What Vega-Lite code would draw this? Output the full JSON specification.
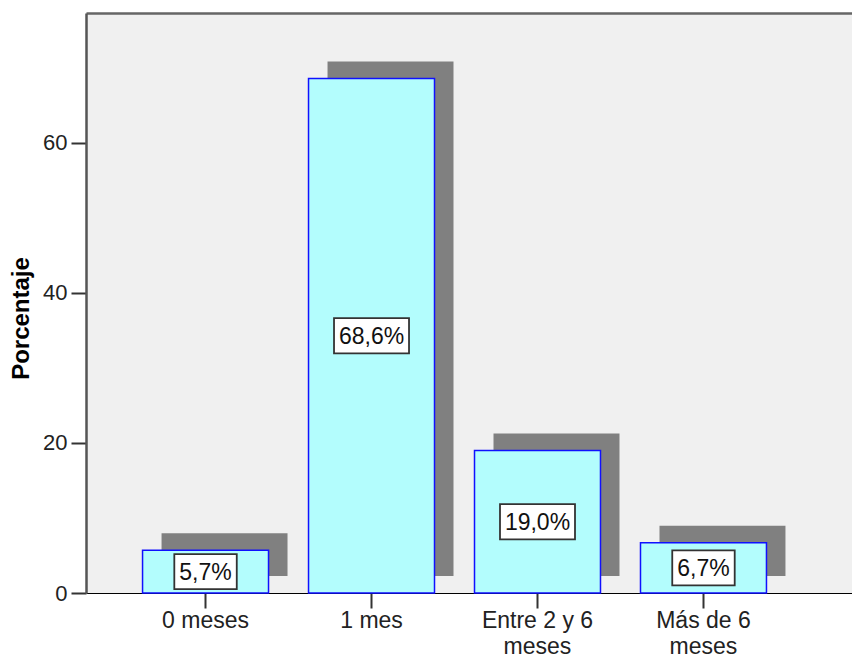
{
  "$schema": "https://vega.github.io/schema/vega-lite/v6.json",
  "width": 766,
  "height": 580,
  "autosize": {"type": "none"},
  "padding": {"left": 86, "top": 13, "right": 0, "bottom": 66},
  "background": "white",
  "config": {
    "view": {"stroke": null, "fill": "#f0f0f0"},
    "font": "Liberation Sans",
    "axis": {"labelFont": "Liberation Sans", "labelFontSize": 22, "labelColor": "#222222", "titleFont": "Liberation Sans", "grid": false}
  },
  "data": {
    "values": [
      {"Periodo": "0 meses", "Porcentaje": 5.7, "Etiqueta": "5,7%"},
      {"Periodo": "1 mes", "Porcentaje": 68.6, "Etiqueta": "68,6%"},
      {"Periodo": "Entre 2 y 6 meses", "Porcentaje": 19.0, "Etiqueta": "19,0%"},
      {"Periodo": "Más de 6 meses", "Porcentaje": 6.7, "Etiqueta": "6,7%"}
    ]
  },
  "resolve": {"scale": {"y": "independent"}},
  "layer": [
    {
      "mark": {"type": "bar", "color": "#808080", "xOffset": 19, "yOffset": -17},
      "encoding": {
        "x": {"field": "Periodo", "type": "nominal", "sort": null,
              "scale": {"paddingInner": 0.241, "paddingOuter": 0.428, "align": 0.398},
              "axis": {"orient": "top", "labels": false, "ticks": false, "title": null, "domainColor": "#666666", "domainWidth": 2.5}},
        "y": {"field": "Porcentaje", "type": "quantitative", "scale": {"domain": [0, 77.33], "nice": false}, "axis": null}
      }
    },
    {
      "mark": {"type": "bar", "color": "#b3fdfd", "stroke": "#1010ff", "strokeWidth": 1.5},
      "encoding": {
        "x": {"field": "Periodo", "type": "nominal", "sort": null,
              "axis": {"orient": "bottom", "title": null, "labelAngle": 0, "domainColor": "#000000", "domainWidth": 1.2,
                       "labelFontSize": 23,
                       "tickColor": "#333333", "tickSize": 15, "tickWidth": 2, "labelPadding": 1, "labelLineHeight": 26,
                       "labelExpr": "datum.value == 'Entre 2 y 6 meses' ? ['Entre 2 y 6', 'meses'] : datum.value == 'Más de 6 meses' ? ['Más de 6', 'meses'] : datum.value"}},
        "y": {"field": "Porcentaje", "type": "quantitative", "scale": {"domain": [0, 77.33], "nice": false},
              "axis": {"title": "Porcentaje", "titleFontSize": 24, "titleFontWeight": "bold", "titleColor": "#000000",
                       "titleY": 305, "titleX": -53,
                       "values": [0, 20, 40, 60], "domainColor": "#555555", "domainWidth": 2.5, "tickColor": "#333333",
                       "tickSize": 15, "tickWidth": 2, "labelPadding": 4}}
      }
    },
    {
      "mark": {"type": "point", "filled": true, "fill": "white", "stroke": "#333333", "strokeWidth": 1.8, "opacity": 1},
      "encoding": {
        "x": {"field": "Periodo", "type": "nominal", "sort": null, "axis": null},
        "y": {"field": "Porcentaje", "type": "quantitative", "scale": {"domain": [0, 154.66], "nice": false}, "axis": null},
        "shape": {"condition": {"test": "datum.Porcentaje >= 10", "value": "M-1,-0.47H1V0.47H-1Z"}, "value": "M-1,-0.56H1V0.56H-1Z"},
        "size": {"condition": {"test": "datum.Porcentaje >= 10", "value": 5625}, "value": 3900}
      }
    },
    {
      "mark": {"type": "text", "fontSize": 23, "font": "Liberation Sans", "color": "#111111", "baseline": "middle", "align": "center", "dy": 1},
      "encoding": {
        "x": {"field": "Periodo", "type": "nominal", "sort": null, "axis": null},
        "y": {"field": "Porcentaje", "type": "quantitative", "scale": {"domain": [0, 154.66], "nice": false}, "axis": null},
        "text": {"field": "Etiqueta"}
      }
    }
  ]
}
